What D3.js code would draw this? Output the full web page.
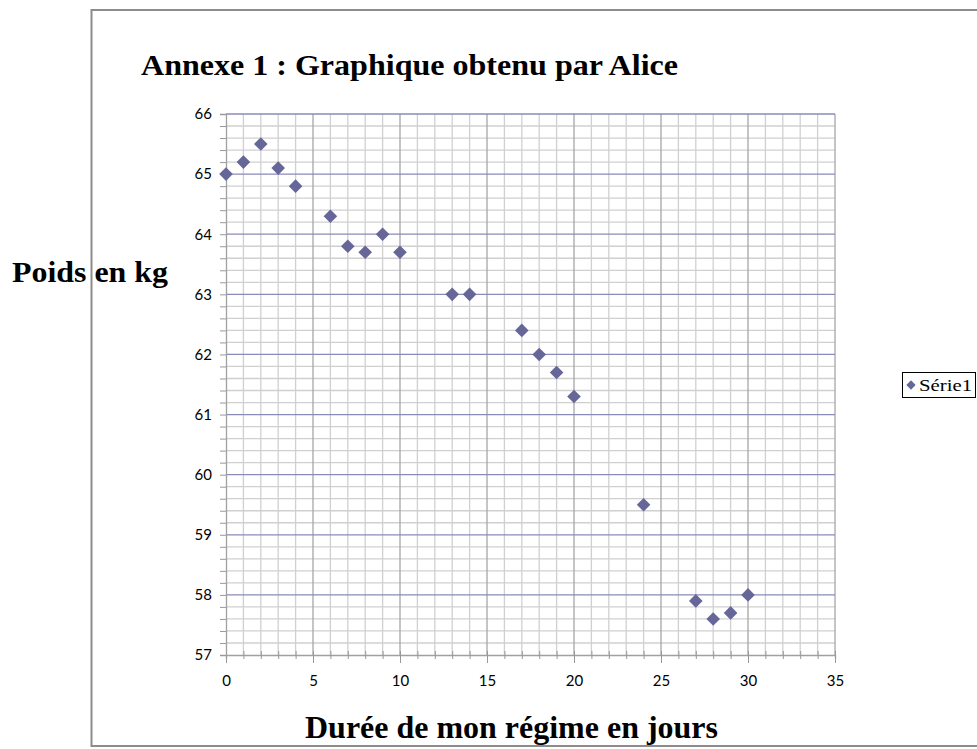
<!DOCTYPE html>
<html>
<head>
<meta charset="utf-8">
<script src="https://cdn.jsdelivr.net/npm/d3@7"></script>
<style>
  body { margin: 0; background: #fff; }
  svg { display: block; }
</style>
</head>
<body>
<svg id="chart" width="977" height="749"></svg>
<script>
const days = [0, 1, 2, 3, 4, 6, 7, 8, 9, 10, 13, 14, 17, 18, 19, 20, 24, 27, 28, 29, 30];
const weights = [65, 65.2, 65.5, 65.1, 64.8, 64.3, 63.8, 63.7, 64, 63.7, 63, 63, 62.4, 62, 61.7, 61.3, 59.5, 57.9, 57.6, 57.7, 58];
const xTicks = [0, 5, 10, 15, 20, 25, 30, 35];
const yTicks = [57, 58, 59, 60, 61, 62, 63, 64, 65, 66];
const seriesName = "Série1";
const title = "Annexe 1 : Graphique obtenu par Alice";
const xTitle = "Durée de mon régime en jours";
const yTitle = "Poids en kg";

(function () {
const svg = d3.select("#chart");
const pL = 226, pR = 835, pT = 114, pB = 655;
const x = d3.scaleLinear().domain([0, 35]).range([pL, pR]);
const y = d3.scaleLinear().domain([57, 66]).range([pB, pT]);
const serif = "'Liberation Serif', 'Times New Roman', serif";
const sans = "Lato, 'Open Sans', sans-serif";

// outer frame
svg.append("path")
  .attr("d", `M977,10 H91.5 V746 H977`)
  .attr("fill", "none").attr("stroke", "#8c8c8c").attr("stroke-width", 2);

const g = svg.append("g");

// minor grid
const xMinor = d3.range(1, 35).filter(v => v % 5 !== 0);
const yMinor = d3.range(0, 45).map(i => 57 + i * 0.2).filter((v, i) => i % 5 !== 0);
g.selectAll(".xmin").data(xMinor).join("line")
  .attr("x1", d => x(d)).attr("x2", d => x(d)).attr("y1", pT).attr("y2", pB)
  .attr("stroke", "#d0d0d0").attr("stroke-width", 1.3);
g.selectAll(".ymin").data(yMinor).join("line")
  .attr("x1", pL).attr("x2", pR).attr("y1", d => y(d)).attr("y2", d => y(d))
  .attr("stroke", "#d0d0d0").attr("stroke-width", 1.3);
// major vertical grid
g.selectAll(".xmaj").data(xTicks.slice(1)).join("line")
  .attr("x1", d => x(d)).attr("x2", d => x(d)).attr("y1", pT).attr("y2", pB)
  .attr("stroke", "#a6a6a6").attr("stroke-width", 1.3);
// major horizontal grid
g.selectAll(".ymaj").data(yTicks.slice(1)).join("line")
  .attr("x1", pL).attr("x2", pR).attr("y1", d => y(d)).attr("y2", d => y(d))
  .attr("stroke", "#8a8ab8").attr("stroke-width", 1.3);

// axes
const xAxis = d3.axisBottom(x).tickValues(d3.range(0, 36)).tickSize(4).tickFormat("");
const gx = svg.append("g").attr("transform", `translate(0,${pB})`).call(xAxis);
gx.selectAll(".tick line").attr("y1", -4).attr("y2", 4).attr("stroke", "#999");
gx.selectAll(".tick").filter(d => d % 5 === 0).select("line").attr("y1", -4).attr("y2", 8);
gx.select(".domain").attr("stroke", "#a0a0a0").attr("stroke-width", 1.3);

const gxl = svg.append("g").attr("transform", `translate(0,${pB})`)
  .call(d3.axisBottom(x).tickValues(xTicks).tickSize(0).tickPadding(20));
gxl.select(".domain").remove();
gxl.selectAll("text").attr("font-family", sans).attr("font-size", 15).attr("fill", "#000");

const yAll = d3.range(0, 46).map(i => +(57 + i * 0.2).toFixed(1));
const gy = svg.append("g").attr("transform", `translate(${pL},0)`)
  .call(d3.axisLeft(y).tickValues(yAll).tickSize(6).tickFormat(""));
gy.selectAll(".tick line").attr("stroke", "#999");
gy.select(".domain").attr("stroke", "#a0a0a0").attr("stroke-width", 1.3);
const gyl = svg.append("g").attr("transform", `translate(${pL},0)`)
  .call(d3.axisLeft(y).tickValues(yTicks).tickSize(0).tickPadding(14).tickFormat(d3.format("d")));
gyl.select(".domain").remove();
gyl.selectAll("text").attr("font-family", sans).attr("font-size", 15).attr("fill", "#000");

// points
const diamond = d3.symbol().type(d3.symbolDiamond2).size(118);
svg.selectAll(".pt").data(days.map((d, i) => [d, weights[i]])).join("path")
  .attr("d", diamond)
  .attr("transform", d => `translate(${x(d[0])},${y(d[1])})`)
  .attr("fill", "#666699");

// titles
svg.append("text").attr("x", 141).attr("y", 75)
  .attr("font-family", serif).attr("font-weight", "bold").attr("font-size", 30)
  .attr("textLength", 537).attr("lengthAdjust", "spacingAndGlyphs").text(title);
svg.append("text").attr("x", 12).attr("y", 282)
  .attr("font-family", serif).attr("font-weight", "bold").attr("font-size", 29)
  .attr("textLength", 156).attr("lengthAdjust", "spacingAndGlyphs").text(yTitle);
svg.append("text").attr("x", 305).attr("y", 738)
  .attr("font-family", serif).attr("font-weight", "bold").attr("font-size", 31)
  .attr("textLength", 413).attr("lengthAdjust", "spacingAndGlyphs").text(xTitle);

// legend
const lg = svg.append("g");
lg.append("rect").attr("x", 902.5).attr("y", 372.5).attr("width", 73).attr("height", 25)
  .attr("fill", "#fff").attr("stroke", "#000").attr("stroke-width", 1);
lg.append("path").attr("d", d3.symbol().type(d3.symbolDiamond2).size(55))
  .attr("transform", "translate(911,385)").attr("fill", "#666699");
lg.append("text").attr("x", 919).attr("y", 391)
  .attr("font-family", serif).attr("font-size", 16)
  .attr("textLength", 53).attr("lengthAdjust", "spacingAndGlyphs").text(seriesName);
})();
</script>
</body>
</html>
